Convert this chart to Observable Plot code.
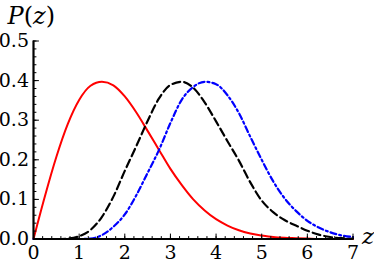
<!DOCTYPE html>
<html><head><meta charset="utf-8">
<script src="https://cdn.jsdelivr.net/npm/d3@7"></script>
<script src="https://cdn.jsdelivr.net/npm/@observablehq/plot@0.6"></script>
<style>
body{margin:0;background:#fff}
svg{display:block}
</style>
</head><body><div id="chart"></div>
<script>
// z sample positions
const zValues = [0,0.25,0.5,0.75,1,1.25,1.5,1.75,2,2.25,2.5,2.75,3,3.25,3.5,3.75,4,4.25,4.5,4.75,5,5.25,5.5,5.75,6,6.25,6.5,6.75,7];
// red solid curve
const redP = [0,0.108,0.207,0.290,0.351,0.387,0.397,0.388,0.360,0.320,0.273,0.225,0.177,0.136,0.100,0.072,0.050,0.034,0.022,0.014,0.009,0.005,0.003,0.002,0.001,0,0,0,0];
// black dashed curve
const blackP = [0,0,0,0.001,0.007,0.023,0.056,0.107,0.172,0.234,0.298,0.355,0.389,0.397,0.382,0.345,0.297,0.247,0.198,0.143,0.097,0.068,0.048,0.034,0.021,0.011,0.005,0.002,0.001];
// blue dot-dashed curve
const blueP = [0,0,0,0,0,0.001,0.010,0.031,0.062,0.110,0.167,0.225,0.293,0.352,0.384,0.397,0.391,0.363,0.318,0.258,0.200,0.146,0.103,0.071,0.046,0.029,0.017,0.009,0.005];

const xTicks = [0,1,2,3,4,5,6,7];
const yTicks = [0,0.1,0.2,0.3,0.4,0.5];
const xMinor = d3.range(0, 7.001, 0.2);
const yMinor = d3.range(0, 0.5001, 0.02);

const serif = "DejaVu Serif";
const toRows = arr => zValues.map((z, i) => ({z, p: arr[i]}));
const tickShape = {draw(context, length) { context.moveTo(0, 0); context.lineTo(0, -length); }};

const chart = Plot.plot({
  width: 374, height: 265,
  marginLeft: 33, marginRight: 21.5, marginTop: 40.5, marginBottom: 26.5,
  style: {fontSize: "19px", background: "white", color: "black", overflow: "visible"},
  x: {domain: [0, 7]},
  y: {domain: [0, 0.5]},
  marks: [
    Plot.line(toRows(redP), {x: "z", y: "p", stroke: "#ff0000", strokeWidth: 2, curve: "monotone-x"}),
    Plot.line(toRows(blackP), {x: "z", y: "p", stroke: "black", strokeWidth: 2.2, strokeDasharray: "8,4", curve: "monotone-x"}),
    Plot.line(toRows(blueP), {x: "z", y: "p", stroke: "#0000ff", strokeWidth: 2.2, strokeDasharray: "6,3,2,3", curve: "monotone-x"}),
    Plot.axisX({ticks: xTicks, tickSize: 0, tickPadding: 6, label: null, tickFormat: d3.format("d"), fontSize: 19}),
    Plot.axisY({ticks: yTicks, tickSize: 0, tickPadding: 4.5, label: null, tickFormat: d3.format(".1f"), fontSize: 19}),
    Plot.vector(xMinor, {x: d => d, y: 0, length: 2.5, rotate: 0, anchor: "start", shape: tickShape, stroke: "black", strokeWidth: 1}),
    Plot.vector(xTicks, {x: d => d, y: 0, length: 5, rotate: 0, anchor: "start", shape: tickShape, stroke: "black", strokeWidth: 1}),
    Plot.vector(yMinor, {x: 0, y: d => d, length: 2.5, rotate: 90, anchor: "start", shape: tickShape, stroke: "black", strokeWidth: 1}),
    Plot.vector(yTicks, {x: 0, y: d => d, length: 5, rotate: 90, anchor: "start", shape: tickShape, stroke: "black", strokeWidth: 1}),
    Plot.ruleY([0], {stroke: "black", strokeWidth: 2.2}),
    Plot.ruleX([0], {stroke: "black", strokeWidth: 2.2}),
    Plot.text(["P(z)"], {frameAnchor: "top-left", dx: -26, dy: -17, textAnchor: "start", lineAnchor: "bottom", fontStyle: "italic", fontSize: 24}),
    Plot.text(["z"], {frameAnchor: "bottom-right", dx: 9, dy: 4.5, textAnchor: "start", lineAnchor: "bottom", fontStyle: "italic", fontSize: 23})
  ]
});

// serif font on every text element, upright parentheses in the P(z) label
d3.select(chart).selectAll("text").each(function() {
  this.setAttribute("font-family", serif);
  this.style.fontFamily = serif;
  if (this.textContent === "P(z)") {
    const t = d3.select(this);
    t.text(null);
    t.append("tspan").text("P");
    t.append("tspan").attr("font-style", "normal").text("(");
    t.append("tspan").text("z");
    t.append("tspan").attr("font-style", "normal").text(")");
  }
});

document.getElementById("chart").appendChild(chart);
</script>
</body></html>
